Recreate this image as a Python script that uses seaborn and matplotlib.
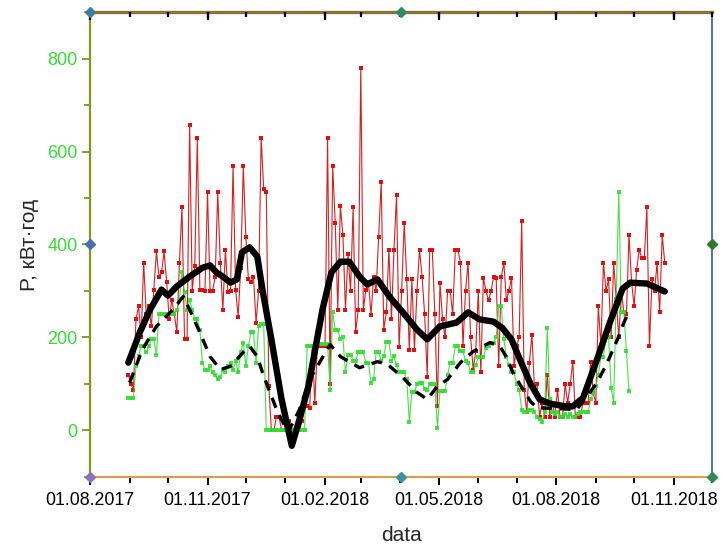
import numpy as np
import pandas as pd
import matplotlib
matplotlib.use("Agg")
import matplotlib.pyplot as plt
import matplotlib.dates as mdates
import seaborn as sns

# ---- data ----
origin = pd.Timestamp("2017-08-01")

# measured consumption, every 2 days from 31.08.2017
red_vals = [120, 100, 88, 239, 267, 200, 361, 250, 267, 224,
            303, 385, 330, 340, 385, 320, 239, 280, 250, 211,
            361, 480, 196, 196, 658, 300, 353, 630, 303, 303,
            300, 512, 300, 300, 330, 512, 361, 260, 389, 297,
            300, 568, 303, 245, 350, 568, 417, 325, 320, 330,
            232, 300, 630, 519, 512, 95, 0, 0, 30, 30,
            0, 0, 0, 20, 0, 0, 0, 0, 20, 52,
            52, 49, 181, 60, 181, 181, 181, 181, 630, 99,
            568, 447, 260, 482, 421, 260, 380, 300, 480, 211,
            260, 780, 260, 303, 320, 249, 330, 300, 417, 535,
            217, 254, 389, 240, 389, 507, 180, 300, 447, 325,
            174, 325, 174, 300, 389, 330, 250, 116, 389, 389,
            250, 52, 318, 240, 200, 300, 300, 250, 389, 389,
            361, 181, 300, 361, 200, 131, 170, 299, 125, 329,
            300, 280, 300, 331, 329, 138, 330, 361, 280, 300,
            329, 138, 181, 200, 450, 88, 39, 146, 206, 90,
            100, 30, 60, 30, 120, 30, 60, 30, 88, 30,
            30, 100, 60, 100, 148, 30, 30, 30, 60, 60,
            60, 148, 80, 60, 267, 180, 361, 300, 325, 200,
            361, 280, 200, 300, 254, 250, 421, 320, 267, 346,
            389, 370, 370, 480, 181, 325, 300, 361, 254, 421,
            361]

green_vals = [70, 70, 70, 138, 160, 181, 181, 168, 181, 196,
              196, 163, 250, 250, 250, 250, 250, 250, 250, 260,
              280, 340, 297, 260, 280, 260, 240, 240, 217, 146,
              131, 131, 138, 125, 120, 110, 116, 131, 125, 138,
              146, 131, 150, 125, 168, 189, 138, 181, 211, 211,
              146, 224, 228, 228, 0, 0, 0, 0, 0, 0,
              0, 0, 0, 0, 0, 0, 0, 0, 0, 0,
              181, 181, 181, 185, 185, 185, 185, 185, 185, 88,
              254, 217, 217, 196, 200, 125, 163, 163, 150, 150,
              168, 168, 168, 146, 146, 103, 110, 168, 168, 150,
              160, 191, 191, 150, 160, 140, 125, 125, 125, 110,
              19, 82, 82, 100, 103, 103, 90, 88, 100, 100,
              100, 6, 84, 84, 84, 120, 146, 146, 181, 181,
              170, 170, 150, 146, 125, 125, 140, 159, 159, 159,
              178, 181, 189, 189, 200, 267, 267, 196, 159, 140,
              125, 125, 100, 88, 45, 39, 39, 45, 45, 40,
              30, 24, 19, 40, 221, 67, 40, 35, 40, 30,
              30, 35, 30, 35, 30, 30, 35, 40, 40, 39,
              39, 67, 80, 95, 120, 159, 159, 202, 202, 92,
              60, 282, 512, 254, 254, 170, 84]

# smoothed curve (solid black), day offsets from 01.08.2017
smooth_day = [30, 39, 47, 56, 61, 68, 78, 88, 94, 99,
              104, 110, 115, 119, 125, 131, 135, 142, 150, 158,
              164, 171, 182, 189, 196, 203, 211, 217, 225, 235,
              245, 256, 264, 274, 287, 296, 305, 316, 323, 330,
              337, 345, 352, 360, 372, 378, 386, 397, 407, 417,
              423, 436, 450]
smooth_val = [146, 211, 260, 303, 290, 310, 331, 350, 355, 340,
              331, 318, 325, 383, 394, 374, 303, 196, 67, -33,
              24, 95, 260, 340, 363, 363, 331, 314, 325, 286,
              254, 217, 196, 224, 232, 254, 239, 234, 220, 196,
              150, 100, 67, 58, 52, 52, 70, 153, 232, 305,
              318, 316, 299]

# smoothed curve (dashed black)
dash_day = [31, 41, 52, 65, 73, 78, 86, 94, 102, 110,
            120, 125, 131, 135, 140, 147, 155, 164, 172, 188,
            196, 211, 225, 233, 245, 256, 264, 272, 280, 290,
            300, 313, 321, 327, 331, 339, 345, 350, 381, 389,
            397, 405, 413, 418, 421]
dash_val = [103, 174, 224, 260, 288, 260, 211, 159, 131, 138,
            168, 181, 159, 125, 88, 39, -4, 45, 110, 185,
            159, 135, 148, 142, 114, 82, 67, 95, 110, 146,
            170, 189, 181, 153, 125, 88, 62, 49, 45, 73,
            103, 146, 196, 232, 250]

red_df = pd.DataFrame({"date": pd.date_range("2017-08-31", periods=len(red_vals), freq="2D"),
                       "P": red_vals})
green_df = pd.DataFrame({"date": pd.date_range("2017-08-31", periods=len(green_vals), freq="2D"),
                         "P": green_vals})
smooth_df = pd.DataFrame({"date": origin + pd.to_timedelta(smooth_day, unit="D"), "P": smooth_val})
dash_df = pd.DataFrame({"date": origin + pd.to_timedelta(dash_day, unit="D"), "P": dash_val})

# ---- plot ----
sns.set_style("white")
plt.rcParams["font.family"] = ["Liberation Sans", "DejaVu Sans"]

fig = plt.figure(figsize=(7.23, 5.46), dpi=100)
ax = fig.add_axes([0.1245, 0.1264, 0.8603, 0.8516])

sns.lineplot(data=red_df, x="date", y="P", ax=ax, color="#d42020", linewidth=0.8,
             marker="s", markersize=2.6, markeredgewidth=0, markerfacecolor="#e01010", zorder=2)
sns.lineplot(data=green_df, x="date", y="P", ax=ax, color="#33dd33", linewidth=0.8, alpha=0.9,
             marker="s", markersize=2.6, markeredgewidth=0, zorder=3)
sns.lineplot(data=dash_df, x="date", y="P", ax=ax, color="black", linewidth=2.4,
             linestyle=(0, (3.2, 2.4)), zorder=4)
sns.lineplot(data=smooth_df, x="date", y="P", ax=ax, color="black", linewidth=4.6,
             solid_capstyle="round", zorder=5)

x_start, x_end = pd.Timestamp("2017-08-01"), pd.Timestamp("2018-12-01")
ax.set_xlim(x_start, x_end)
ax.set_ylim(-100, 900)

ax.xaxis.set_major_locator(mdates.MonthLocator(bymonth=[2, 5, 8, 11]))
ax.xaxis.set_minor_locator(mdates.MonthLocator())
ax.xaxis.set_major_formatter(mdates.DateFormatter("%d.%m.%Y"))
ax.yaxis.set_major_locator(plt.MultipleLocator(200))
ax.yaxis.set_minor_locator(plt.MultipleLocator(100))

ax.tick_params(axis="x", which="both", direction="out", bottom=True, top=False,
               labelsize=12.8, colors="black", width=1.4, pad=5)
ax.tick_params(axis="x", which="major", length=6)
ax.tick_params(axis="x", which="minor", length=4)
ax.tick_params(axis="y", which="both", direction="out", left=True, right=False,
               labelsize=13, labelcolor="#33dd33", color="#6a8f1a", width=1.2, pad=3)
ax.tick_params(axis="y", which="major", length=6)
ax.tick_params(axis="y", which="minor", length=4)

# top ticks hang down into the plot (monthly, longer every quarter)
top_minor = pd.date_range(x_start, x_end, freq="MS")
top_major = pd.date_range(x_start, x_end, freq="3MS")
xt = ax.get_xaxis_transform()
for d in top_minor:
    ax.plot([d, d], [0.989, 1.0], transform=xt, color="black", linewidth=1.6,
            solid_capstyle="butt", zorder=6, clip_on=False)
for d in top_major:
    ax.plot([d, d], [0.983, 1.0], transform=xt, color="black", linewidth=1.6,
            solid_capstyle="butt", zorder=6, clip_on=False)
ax.set_xlim(x_start, x_end)
ax.set_ylim(-100, 900)

ax.spines["left"].set_color("#7d9c14")
ax.spines["left"].set_linewidth(1.6)
ax.spines["top"].set_color("#8a7434")
ax.spines["top"].set_linewidth(2.4)
ax.spines["bottom"].set_color("#d2a050")
ax.spines["bottom"].set_linewidth(1.6)
ax.spines["right"].set_color("#4a74b4")
ax.spines["right"].set_linewidth(1.4)

# Origin-style anchor diamonds on the frame
for xa, ya, c in [(0, 1, "#3a7fa0"), (0.5, 1, "#2f8a6a"), (0, 0.5, "#4a6fb0"),
                  (1, 0.5, "#2f7a2a"), (0, 0, "#8a70c0"), (0.5, 0, "#3a8fa0"), (1, 0, "#2f8a50")]:
    ax.plot([xa], [ya], marker="D", markersize=5, color=c, transform=ax.transAxes,
            clip_on=False, zorder=10)

ax.set_xlabel("data", fontsize=15, labelpad=12)
ax.set_ylabel("P, кВт·год", fontsize=15, labelpad=6)
ax.grid(False)

fig.savefig("out.png", dpi=100)
